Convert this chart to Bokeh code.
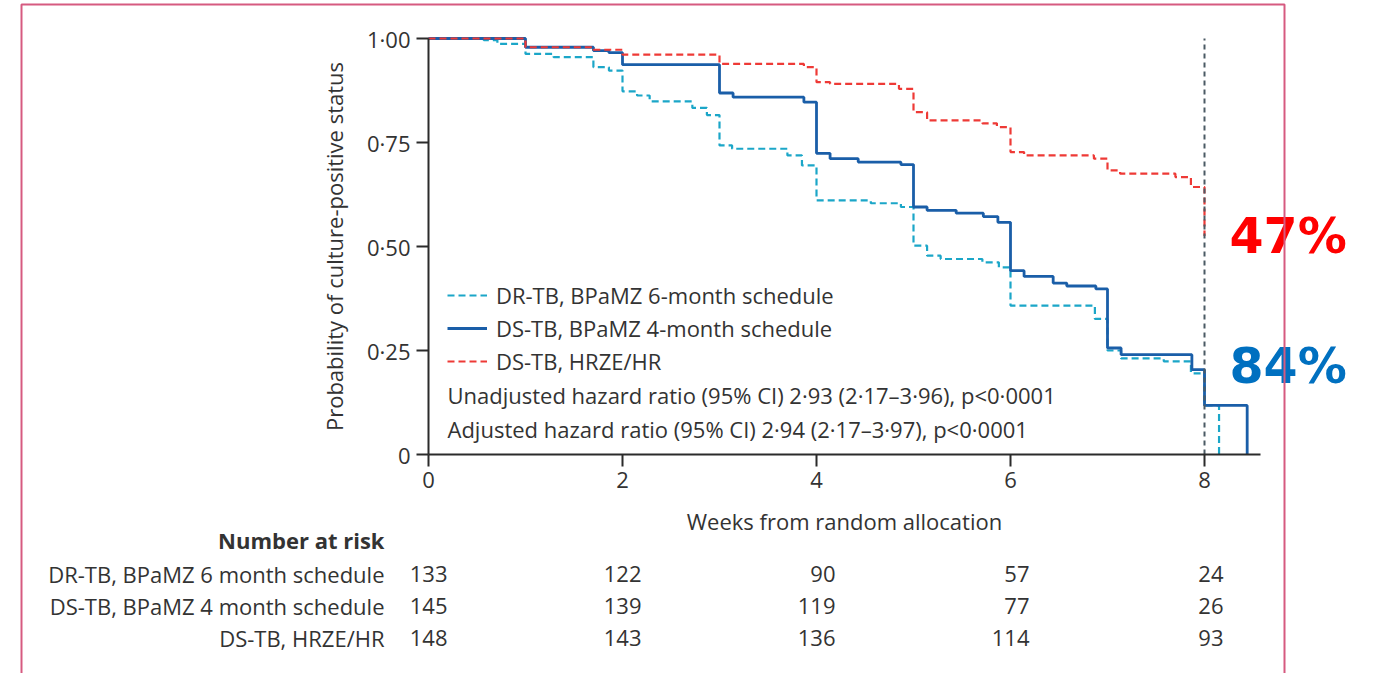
from bokeh.plotting import figure
from bokeh.models import (Range1d, LinearAxis, FixedTicker, Legend, LegendItem,
                          BoxAnnotation, ColumnDataSource)
from bokeh.core.properties import value
from bokeh.embed import file_html
from bokeh.resources import INLINE

# ---------------- data ----------------
dr_weeks = [0, 0.57, 0.71, 1.0, 1.29, 1.70, 1.86, 2.0, 2.15, 2.28, 2.72, 2.87, 3.0, 3.13,
            3.70, 3.85, 4.0, 4.56, 4.87, 5.0, 5.14, 5.28, 5.71, 5.88, 6.0, 6.87, 7.0,
            7.14, 7.58, 7.86, 8.0, 8.15]
dr_surv = [1.0, 0.996, 0.987, 0.963, 0.955, 0.931, 0.923, 0.873, 0.863, 0.849, 0.833,
           0.816, 0.743, 0.735, 0.719, 0.695, 0.611, 0.604, 0.595, 0.502, 0.478, 0.470,
           0.462, 0.450, 0.358, 0.326, 0.250, 0.231, 0.224, 0.195, 0.118, 0.0]

ds4_weeks = [0, 1.0, 1.70, 1.86, 2.0, 3.0, 3.14, 3.87, 4.0, 4.14, 4.43, 4.87, 5.0, 5.14,
             5.44, 5.72, 5.87, 6.0, 6.14, 6.44, 6.58, 6.88, 7.0, 7.14, 7.87, 8.0, 8.44]
ds4_surv = [1.0, 0.979, 0.971, 0.966, 0.937, 0.869, 0.859, 0.847, 0.724, 0.711, 0.703,
            0.697, 0.595, 0.587, 0.580, 0.572, 0.558, 0.442, 0.428, 0.412, 0.405, 0.398,
            0.256, 0.240, 0.204, 0.118, 0.0]

hrze_weeks = [0, 1.0, 1.70, 2.0, 3.0, 3.87, 4.0, 4.14, 4.85, 5.0, 5.14, 5.71, 5.86, 6.0,
              6.14, 6.86, 7.0, 7.13, 7.70, 7.86, 8.0]
hrze_surv = [1.0, 0.979, 0.973, 0.961, 0.939, 0.931, 0.895, 0.891, 0.879, 0.823, 0.803,
             0.796, 0.787, 0.727, 0.719, 0.711, 0.683, 0.675, 0.667, 0.643, 0.525]

legend_labels = ["DR-TB, BPaMZ 6-month schedule", "DS-TB, BPaMZ 4-month schedule",
                 "DS-TB, HRZE/HR"]
hazard_texts = ["Unadjusted hazard ratio (95% CI) 2·93 (2·17–3·96), p<0·0001",
                "Adjusted hazard ratio (95% CI) 2·94 (2·17–3·97), p<0·0001"]

cutoff_week = 8
x_ticks = [0, 2, 4, 6, 8]
y_ticks = [0, 0.25, 0.5, 0.75, 1.0]
y_tick_labels = ["0", "0·25", "0·50", "0·75", "1·00"]

risk_title = "Number at risk"
risk_groups = ["DR-TB, BPaMZ 6 month schedule", "DS-TB, BPaMZ 4 month schedule",
               "DS-TB, HRZE/HR"]
risk_weeks = [0, 2, 4, 6, 8]
risk_dr = [133, 122, 90, 57, 24]
risk_ds4 = [145, 139, 119, 77, 26]
risk_hrze = [148, 143, 136, 114, 93]

pct_labels = ["47%", "84%"]

# ---------------- layout (page pixels -> data) ----------------
W, H = 1365, 673
ORG = 0
PX0, PXW = 428, 97.0     # page x of week 0, px per week
PY0, PYU = 454, 416.0    # page y of prob 0, px per unit


def X(px):
    return (px - PX0) / PXW


def Y(py):
    return (PY0 - py) / PYU


FONT = "Open Sans"
TXT = "#333333"
FS = "22px"

C_DR = "#1ba6c8"
C_DS4 = "#1a5ea8"
C_HR = "#ee3a36"

p = figure(width=W, height=H, output_backend="svg", toolbar_location=None,
           x_range=Range1d(X(ORG), X(ORG + W)), y_range=Range1d(Y(ORG + H), Y(ORG)),
           x_axis_type=None, y_axis_type=None, min_border=0)
p.outline_line_color = None
p.xgrid.visible = False
p.ygrid.visible = False
p.background_fill_color = "white"

# border frame
p.add_layout(BoxAnnotation(left=X(21), right=X(1284), top=Y(4), bottom=Y(720),
                           fill_alpha=0, line_color="#d65a80", line_alpha=1,
                           line_width=2))

# axes
xaxis = LinearAxis(fixed_location=0, bounds=(0, 8.58), ticker=FixedTicker(ticks=x_ticks),
                   axis_label="Weeks from random allocation")
yaxis = LinearAxis(fixed_location=0, bounds=(0, 1), ticker=FixedTicker(ticks=y_ticks),
                   axis_label="Probability of culture-positive status",
                   major_label_overrides={float(t): l for t, l in zip(y_ticks, y_tick_labels)})
for ax in (xaxis, yaxis):
    ax.axis_line_color = "#2b2b2b"
    ax.axis_line_width = 2
    ax.major_tick_line_color = "#2b2b2b"
    ax.major_tick_line_width = 2
    ax.major_tick_out = 12
    ax.major_tick_in = 0
    ax.minor_tick_line_color = None
    ax.major_label_text_font = FONT
    ax.major_label_text_font_size = FS
    ax.major_label_text_color = TXT
    ax.axis_label_text_font = FONT
    ax.axis_label_text_font_size = FS
    ax.axis_label_text_font_style = "normal"
    ax.axis_label_text_color = TXT
xaxis.major_label_standoff = 5
xaxis.axis_label_standoff = 15
yaxis.major_label_standoff = 6
yaxis.axis_label_standoff = 15
p.add_layout(xaxis, "below")
p.add_layout(yaxis, "left")

# curves
r_dr = p.step(dr_weeks, dr_surv, mode="after", line_color=C_DR, line_width=2.2,
              line_dash="7 4")
r_ds4 = p.step(ds4_weeks, ds4_surv, mode="after", line_color=C_DS4, line_width=2.8)
r_hr = p.step(hrze_weeks, hrze_surv, mode="after", line_color=C_HR, line_width=2.2,
              line_dash="7 4")

# week-8 reference line
p.line([cutoff_week, cutoff_week], [0, 1], line_color="#4b5a64", line_width=2,
       line_dash="5 4")

# legend
legend = Legend(items=[LegendItem(label=l, renderers=[r]) for l, r in
                       zip(legend_labels, [r_dr, r_ds4, r_hr])],
                location=(447 - ORG, (ORG + H) - 376), background_fill_alpha=0,
                border_line_alpha=0,
                label_text_font=FONT, label_text_font_size=FS, label_text_color=TXT,
                glyph_width=40, glyph_height=30, label_height=30, spacing=3,
                padding=0, margin=0, label_standoff=9)
p.add_layout(legend, "center")

# hazard ratio texts
p.text(x=[X(447)] * 2, y=[Y(394), Y(428)], text=hazard_texts,
       text_font=value(FONT), text_font_size=FS, text_color=TXT,
       text_align="left", text_baseline="middle")

# percentages
p.text(x=[cutoff_week] * 2, y=[Y(236), Y(366)], text=pct_labels, x_offset=25,
       text_font=value("DejaVu Sans"), text_font_size="49px", text_font_style="bold",
       text_color=["#ff0000", "#0070c0"], text_align="left", text_baseline="middle")

# risk table
row_y = [Y(573), Y(605), Y(637)]
p.text(x=[X(384)], y=[Y(539)], text=[risk_title], text_font=value(FONT),
       text_font_size=FS, text_font_style="bold", text_color=TXT,
       text_align="right", text_baseline="middle")
p.text(x=[X(384)] * 3, y=row_y, text=risk_groups, text_font=value(FONT),
       text_font_size=FS, text_color=TXT, text_align="right", text_baseline="middle")
for yy, vals in zip(row_y, [risk_dr, risk_ds4, risk_hrze]):
    src = ColumnDataSource(dict(x=risk_weeks, y=[yy] * len(vals),
                                t=[str(v) for v in vals]))
    p.text(x="x", y="y", text="t", source=src, x_offset=19, text_font=value(FONT),
           text_font_size=FS, text_color=TXT, text_align="right", text_baseline="middle")

open("out.html", "w").write(file_html(p, INLINE))
